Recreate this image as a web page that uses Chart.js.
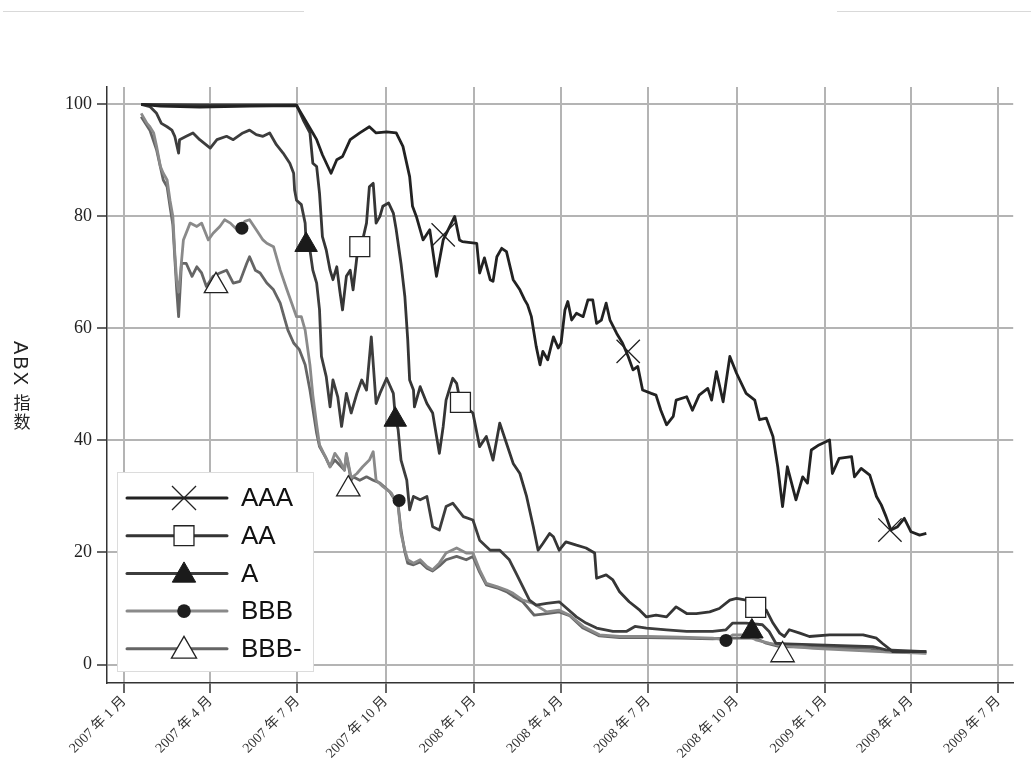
<!DOCTYPE html>
<html>
<head>
<meta charset="utf-8">
<script src="https://cdn.jsdelivr.net/npm/chart.js@4.4.1/dist/chart.umd.min.js"></script>
<style>
  html, body { margin: 0; padding: 0; background: #fff; }
  canvas { display: block; }
</style>
</head>
<body>
<canvas id="abx" width="1031" height="783"></canvas>
<script>
// ABX index by tranche. x values are days counted from 2007-01-01.
const seriesNames = ['AAA', 'AA', 'A', 'BBB', 'BBB-'];

const tickDates = ['2007-01-01', '2007-04-01', '2007-07-01', '2007-10-01', '2008-01-01', '2008-04-01',
                   '2008-07-01', '2008-10-01', '2009-01-01', '2009-04-01', '2009-07-01'];
const tickLabels = ['2007 年 1 月', '2007 年 4 月', '2007 年 7 月', '2007 年 10 月', '2008 年 1 月', '2008 年 4 月',
                    '2008 年 7 月', '2008 年 10 月', '2009 年 1 月', '2009 年 4 月', '2009 年 7 月'];
const yTicks = [0, 20, 40, 60, 80, 100];
const yTitle = ['ABX', '指', '数'];

const aaaDay = [18, 38, 79, 131, 180, 187, 197, 201, 207, 216, 222, 228, 236, 246, 256, 263, 274, 284, 291, 298,
  301, 305, 312, 319, 326, 333, 345, 350, 353, 368, 371, 376, 382, 385, 389, 394, 399, 406, 413, 418,
  421, 425, 430, 434, 437, 442, 448, 453, 456, 460, 463, 467, 472, 479, 484, 489, 493, 498, 503, 507,
  514, 520, 526, 531, 536, 541, 550, 555, 560, 566, 573, 576, 587, 593, 600, 609, 613, 618, 625, 632,
  639, 649, 658, 663, 670, 677, 682, 687, 692, 701, 708, 713, 717, 725, 736, 739, 746, 759, 762, 769,
  778, 785, 790, 795, 800, 807, 814, 821, 830, 837];
const aaaValue = [100.0, 99.7, 99.5, 99.7, 99.8, 97.8, 94.9, 93.7, 91.0, 87.7, 90.1, 90.7, 93.7, 94.9, 96.0, 94.9, 95.1, 94.9, 92.5, 87.1,
  81.8, 80.0, 75.8, 77.6, 69.3, 75.8, 80.0, 75.8, 75.5, 75.2, 69.9, 72.6, 68.7, 68.4, 72.8, 74.3, 73.7, 68.7, 66.9, 65.1,
  64.2, 62.1, 56.8, 53.5, 55.9, 54.4, 58.5, 56.5, 57.4, 63.3, 64.8, 61.5, 62.7, 62.1, 65.1, 65.1, 60.9, 61.5, 64.5, 61.5,
  59.1, 57.4, 55.0, 52.6, 53.2, 49.0, 48.4, 48.1, 45.4, 42.8, 44.3, 47.2, 47.8, 45.4, 48.1, 49.3, 47.2, 52.3, 46.9, 55.0,
  52.0, 48.4, 47.2, 43.7, 44.0, 40.7, 35.3, 28.2, 35.3, 29.4, 33.5, 32.4, 38.3, 39.2, 40.1, 34.1, 36.8, 37.1, 33.5, 35.0,
  33.8, 30.0, 28.5, 26.4, 24.0, 24.6, 26.1, 23.7, 23.1, 23.4];

const aaDay = [18, 79, 180, 187, 194, 197, 201, 204, 207, 211, 215, 218, 222, 225, 228, 232, 236, 239, 243, 249,
  253, 256, 260, 263, 267, 270, 276, 281, 284, 289, 293, 296, 298, 302, 303, 309, 316, 322, 329, 333,
  336, 343, 347, 351, 364, 371, 378, 385, 392, 399, 406, 413, 420, 427, 432, 437, 444, 448, 454, 461,
  472, 482, 491, 493, 503, 510, 517, 527, 538, 545, 555, 566, 576, 587, 597, 611, 621, 632, 639, 649,
  659, 670, 677, 684, 689, 694, 705, 715, 736, 771, 785, 791, 802, 837];
const aaValue = [100.0, 99.9, 99.9, 97.2, 94.9, 89.5, 88.9, 84.1, 76.4, 74.0, 70.4, 68.7, 71.0, 66.9, 63.3, 69.3, 70.4, 66.9, 72.8, 75.8,
  78.8, 85.3, 85.9, 78.8, 80.0, 81.8, 82.4, 80.6, 77.6, 71.6, 65.7, 58.0, 50.8, 49.0, 46.0, 49.6, 46.6, 44.9, 37.7, 42.5,
  47.2, 51.1, 50.2, 46.8, 44.9, 38.9, 40.7, 36.5, 43.1, 39.5, 35.9, 34.1, 30.0, 24.6, 20.4, 21.6, 23.4, 22.8, 20.4, 21.9,
  21.3, 20.8, 19.9, 15.4, 16.0, 15.1, 13.0, 11.2, 9.7, 8.5, 8.8, 8.5, 10.3, 9.1, 9.1, 9.4, 10.0, 11.5, 11.8, 11.5,
  10.2, 9.7, 7.4, 5.6, 5.0, 6.2, 5.6, 5.0, 5.3, 5.3, 4.7, 3.8, 2.3, 2.3];

const aDay = [18, 27, 34, 39, 45, 50, 53, 57, 58, 65, 72, 79, 90, 97, 107, 114, 124, 131, 138, 145,
  152, 159, 166, 173, 177, 178, 180, 185, 189, 190, 194, 197, 201, 204, 206, 211, 215, 218, 223, 227,
  232, 237, 243, 248, 253, 258, 263, 267, 274, 281, 283, 286, 289, 293, 295, 298, 302, 309, 316, 322,
  329, 336, 343, 354, 364, 371, 382, 392, 402, 409, 416, 423, 430, 441, 454, 460, 472, 482, 493, 510,
  524, 533, 545, 566, 587, 614, 628, 635, 649, 666, 673, 680, 691, 781, 795, 837];
const aValue = [100.0, 99.6, 98.4, 96.6, 96.0, 95.4, 94.3, 91.3, 93.7, 94.3, 94.9, 93.7, 92.2, 93.7, 94.3, 93.7, 94.9, 95.4, 94.6, 94.3,
  94.9, 92.8, 91.3, 89.5, 87.7, 84.7, 82.9, 82.1, 78.8, 75.2, 74.0, 70.4, 68.1, 63.3, 55.0, 51.4, 46.0, 50.8, 47.8, 42.5,
  48.4, 44.9, 48.4, 50.8, 49.0, 58.5, 46.6, 48.4, 51.1, 48.4, 44.3, 41.9, 36.5, 34.1, 32.9, 27.6, 30.0, 29.4, 30.0, 24.6,
  24.0, 28.2, 28.8, 26.4, 25.8, 22.2, 20.4, 20.4, 18.7, 16.3, 13.9, 11.5, 10.6, 10.9, 11.2, 10.3, 8.5, 7.4, 6.5, 5.9,
  5.9, 6.8, 6.5, 6.2, 5.9, 5.9, 6.2, 7.4, 7.4, 7.1, 5.9, 3.8, 3.7, 3.2, 2.6, 2.3];

const bbbDay = [18, 24, 27, 31, 34, 38, 41, 45, 48, 51, 53, 55, 57, 59, 62, 69, 76, 81, 88, 93,
  100, 105, 111, 118, 126, 131, 138, 145, 149, 156, 163, 170, 175, 180, 185, 189, 194, 197, 201, 204,
  210, 215, 220, 225, 230, 232, 237, 243, 249, 256, 260, 263, 270, 279, 286, 289, 293, 296, 302, 309,
  316, 322, 329, 336, 347, 357, 364, 371, 378, 389, 399, 406, 416, 427, 441, 454, 465, 479, 496, 517,
  545, 580, 614, 628, 635, 649, 659, 673, 684, 719, 788, 837];
const bbbValue = [98.4, 96.6, 96.0, 94.9, 92.5, 88.9, 87.7, 86.5, 82.9, 80.0, 73.5, 68.5, 66.5, 70.0, 75.8, 78.8, 78.2, 78.8, 75.8, 77.0,
  78.2, 79.4, 78.8, 77.6, 79.1, 79.4, 77.6, 75.8, 75.2, 74.6, 70.4, 66.9, 64.5, 62.1, 62.1, 59.7, 53.5, 48.1, 42.8, 39.2,
  37.1, 35.3, 37.7, 36.5, 34.7, 37.7, 33.3, 34.1, 35.3, 36.5, 38.0, 32.9, 31.8, 30.6, 28.2, 23.4, 20.4, 18.7, 18.1, 18.7,
  17.5, 16.9, 18.1, 19.9, 20.8, 19.9, 19.9, 16.9, 14.5, 13.9, 13.3, 12.7, 11.5, 10.9, 9.4, 9.7, 8.8, 6.8, 5.3, 5.0,
  5.0, 4.9, 4.7, 4.4, 5.3, 5.3, 4.4, 3.8, 3.4, 2.9, 2.3, 2.0];

const bbbMinusDay = [18, 27, 34, 41, 45, 48, 51, 55, 57, 60, 65, 71, 76, 81, 86, 93, 100, 107, 114, 121,
  128, 131, 137, 142, 149, 156, 163, 168, 171, 177, 183, 189, 194, 201, 204, 210, 215, 220, 225, 230,
  232, 237, 239, 246, 253, 260, 267, 277, 286, 289, 293, 296, 302, 309, 316, 322, 329, 336, 347, 357,
  364, 371, 378, 389, 399, 406, 416, 428, 441, 454, 465, 479, 496, 517, 545, 580, 614, 635, 659, 670,
  684, 778, 791, 837];
const bbbMinusValue = [97.8, 95.4, 91.9, 86.5, 85.3, 81.8, 78.5, 66.9, 62.1, 71.6, 71.6, 69.3, 71.0, 69.9, 67.5, 69.3, 69.9, 70.4, 68.1, 68.4,
  71.6, 72.8, 70.4, 69.9, 68.1, 66.9, 64.5, 61.5, 59.7, 57.4, 56.2, 53.5, 49.0, 41.3, 38.9, 37.1, 35.3, 36.5, 35.6, 34.7,
  37.4, 32.9, 33.5, 32.9, 33.5, 32.9, 32.4, 30.9, 28.5, 24.0, 20.1, 18.1, 17.8, 18.3, 17.2, 16.7, 17.6, 18.7, 19.3, 18.7,
  19.3, 16.5, 14.2, 13.7, 13.0, 12.2, 11.2, 8.8, 9.1, 9.4, 8.7, 6.5, 5.1, 4.8, 4.8, 4.7, 4.6, 4.7, 4.7, 3.8,
  3.2, 2.9, 2.3, 2.1];

// Marker positions along each curve
const aaaMarkDay = [333, 526, 799];       const aaaMarkValue = [76.7, 55.9, 24.0];
const aaMarkDay = [246, 351, 659];        const aaMarkValue = [74.6, 46.8, 10.2];
const aMarkDay = [190, 283, 655];         const aMarkValue = [74.9, 43.7, 5.9];
const bbbMarkDay = [123, 287, 628];       const bbbMarkValue = [77.9, 29.3, 4.3];
const bbbMinusMarkDay = [96, 234, 687];   const bbbMinusMarkValue = [67.6, 31.3, 1.7];

// ---------------------------------------------------------------------------
const EPOCH = Date.UTC(2007, 0, 1);
const dayOf = s => {
  const [y, m, d] = s.split('-').map(Number);
  return Math.round((Date.UTC(y, m - 1, d) - EPOCH) / 86400000);
};
const tickDays = tickDates.map(dayOf);
const pts = (xs, ys) => xs.map((x, i) => ({ x, y: ys[i] }));

const styles = [
  { color: '#222222', point: 'crossRot', radius: 16.5, fill: 'rgba(0,0,0,0)', bw: 1.3, legendRadius: 17 },
  { color: '#353535', point: 'rect', radius: 14.1, fill: '#ffffff', bw: 1.3, legendRadius: 14.1 },
  { color: '#3d3d3d', point: 'triangle', radius: 13, fill: '#1a1a1a', bw: 1, legendRadius: 13.5 },
  { color: '#8a8a8a', point: 'circle', radius: 6.5, fill: '#1e1e1e', bw: 0, legendRadius: 6.8 },
  { color: '#656565', point: 'triangle', radius: 13.5, fill: '#ffffff', bw: 1.3, legendRadius: 14.5 }
];
const markerStroke = ['#222', '#222', '#1a1a1a', '#1e1e1e', '#222'];

const lineData = [
  pts(aaaDay, aaaValue), pts(aaDay, aaValue), pts(aDay, aValue),
  pts(bbbDay, bbbValue), pts(bbbMinusDay, bbbMinusValue)
];
const markData = [
  pts(aaaMarkDay, aaaMarkValue), pts(aaMarkDay, aaMarkValue), pts(aMarkDay, aMarkValue),
  pts(bbbMarkDay, bbbMarkValue), pts(bbbMinusMarkDay, bbbMinusMarkValue)
];

const datasets = [];
seriesNames.forEach((name, i) => {
  datasets.push({
    label: name,
    data: lineData[i],
    borderColor: styles[i].color,
    borderWidth: 2.8,
    borderJoinStyle: 'round',
    pointRadius: 0,
    pointHoverRadius: 0,
    tension: 0,
    fill: false,
    order: 10 + i
  });
});
seriesNames.forEach((name, i) => {
  datasets.push({
    label: name + ' marker',
    data: markData[i],
    showLine: false,
    pointStyle: styles[i].point,
    pointRadius: styles[i].radius,
    pointBorderWidth: styles[i].bw,
    pointBackgroundColor: styles[i].fill,
    pointBorderColor: markerStroke[i],
    order: i
  });
});

const serif = "'Liberation Serif', 'Times New Roman', 'Noto Sans CJK SC', serif";

// Decorative rules at the top edge of the page
const pageRules = {
  id: 'pageRules',
  beforeDraw(chart) {
    const ctx = chart.ctx;
    ctx.save();
    ctx.strokeStyle = '#d9d9d9';
    ctx.lineWidth = 1;
    ctx.beginPath();
    ctx.moveTo(3, 11.5); ctx.lineTo(304, 11.5);
    ctx.moveTo(837, 11.5); ctx.lineTo(1031, 11.5);
    ctx.stroke();
    ctx.restore();
  }
};

// Vertical axis title: Latin letters turned, CJK characters upright
const yAxisTitle = {
  id: 'yAxisTitle',
  afterDraw(chart) {
    const ctx = chart.ctx;
    const area = chart.chartArea;
    const cy = (area.top + area.bottom) / 2;
    ctx.save();
    ctx.fillStyle = '#222';
    ctx.font = "20px 'Liberation Sans', Arial, sans-serif";
    if ('letterSpacing' in ctx) ctx.letterSpacing = '2px';
    ctx.translate(20, cy - 44);
    ctx.rotate(Math.PI / 2);
    ctx.textAlign = 'left';
    ctx.textBaseline = 'middle';
    ctx.fillText(yTitle[0], 0, 0);
    ctx.restore();
    ctx.save();
    ctx.fillStyle = '#222';
    ctx.font = "17px 'Noto Sans CJK SC', sans-serif";
    ctx.textAlign = 'center';
    ctx.textBaseline = 'middle';
    ctx.fillText(yTitle[1], 22, cy + 18);
    ctx.fillText(yTitle[2], 22, cy + 37);
    ctx.restore();
  }
};

// Legend panel: line sample with the series marker and its name
const legendPanel = {
  id: 'legendPanel',
  afterDraw(chart) {
    const ctx = chart.ctx;
    const box = { x: 117, y: 472, w: 197, h: 200 };
    ctx.save();
    ctx.fillStyle = '#ffffff';
    ctx.fillRect(box.x, box.y, box.w, box.h);
    ctx.strokeStyle = '#dcdcdc';
    ctx.lineWidth = 1;
    ctx.strokeRect(box.x + 0.5, box.y + 0.5, box.w - 1, box.h - 1);
    seriesNames.forEach((name, i) => {
      const y = box.y + 26 + i * 37.7;
      const st = styles[i];
      ctx.strokeStyle = st.color;
      ctx.lineWidth = 3;
      ctx.lineCap = 'round';
      ctx.beginPath();
      ctx.moveTo(127, y);
      ctx.lineTo(227, y);
      ctx.stroke();
      ctx.lineCap = 'butt';
      ctx.fillStyle = st.fill;
      ctx.strokeStyle = markerStroke[i];
      ctx.lineWidth = st.bw;
      Chart.helpers.drawPoint(ctx, {
        pointStyle: st.point, rotation: 0, radius: st.legendRadius, borderWidth: st.bw
      }, 184, y + (st.point === 'triangle' ? 2 : 0));
      ctx.fillStyle = '#111';
      ctx.font = "26px 'Liberation Sans', Arial, sans-serif";
      ctx.textAlign = 'left';
      ctx.textBaseline = 'middle';
      ctx.fillText(name, 241, y + 1);
    });
    ctx.restore();
  }
};

new Chart(document.getElementById('abx'), {
  type: 'line',
  data: { datasets },
  options: {
    responsive: false,
    animation: false,
    devicePixelRatio: 1,
    layout: { padding: { left: 0, top: 87, right: 17, bottom: 0 } },
    plugins: { legend: { display: false }, tooltip: { enabled: false } },
    events: [],
    scales: {
      x: {
        type: 'linear',
        min: -17.7,
        max: 927.6,
        afterBuildTicks: s => { s.ticks = tickDays.map(v => ({ value: v })); },
        afterFit: s => { s.height = 100; },
        ticks: {
          autoSkip: false,
          maxRotation: 45,
          minRotation: 45,
          padding: 0,
          color: '#333',
          font: { family: serif, size: 14 },
          callback: (v, i) => tickLabels[i]
        },
        grid: { color: '#b4b4b4', lineWidth: 2, tickColor: '#333', tickLength: 10, tickWidth: 1.5 },
        border: { color: '#333', width: 1.5 }
      },
      y: {
        type: 'linear',
        min: -3.3,
        max: 103.1,
        afterBuildTicks: s => { s.ticks = yTicks.map(v => ({ value: v })); },
        afterFit: s => { s.width = 107; },
        ticks: {
          padding: 5,
          color: '#222',
          font: { family: serif, size: 18 },
          callback: v => String(v)
        },
        grid: { color: '#b4b4b4', lineWidth: 2, tickColor: '#333', tickLength: 10, tickWidth: 1.5 },
        border: { color: '#333', width: 1.5 }
      }
    }
  },
  plugins: [pageRules, yAxisTitle, legendPanel]
});
</script>
</body>
</html>
